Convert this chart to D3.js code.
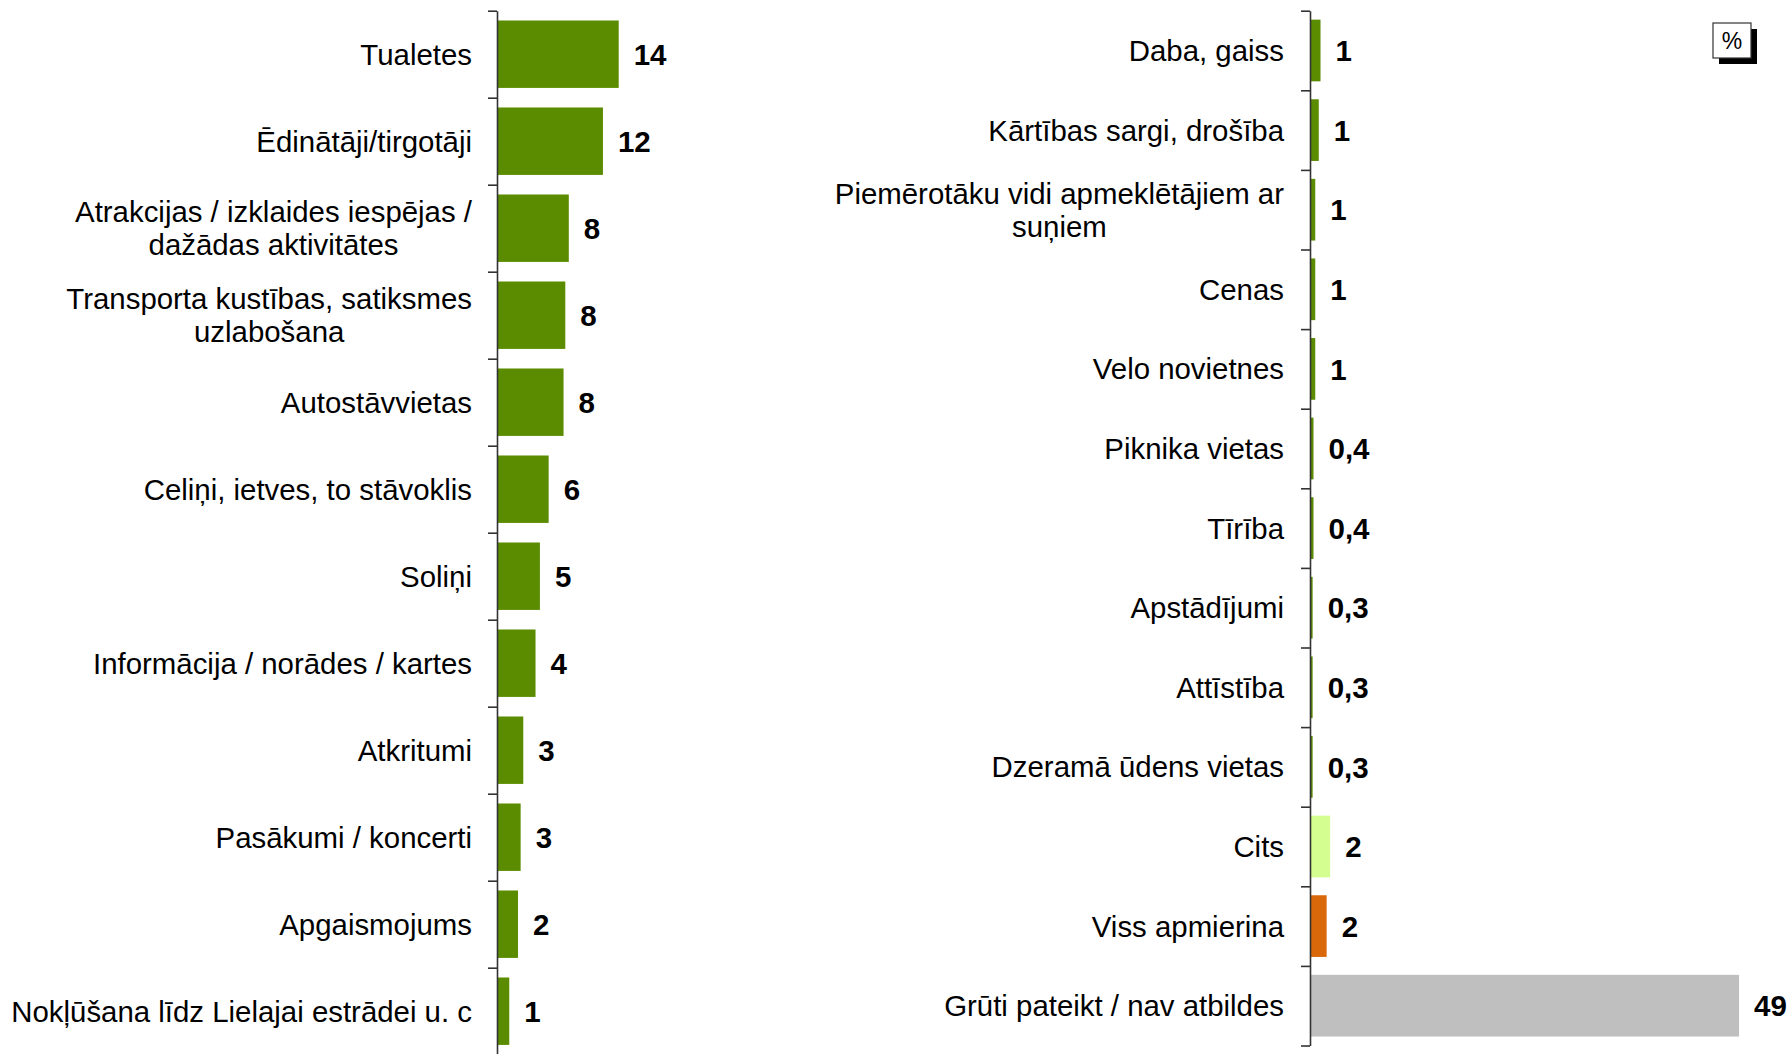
<!DOCTYPE html>
<html>
<head>
<meta charset="utf-8">
<script src="https://cdn.jsdelivr.net/npm/d3@7"></script>
<style>
  html, body { margin: 0; padding: 0; background: #fff; }
  svg { display: block; font-family: "Liberation Sans", Arial, sans-serif; }
</style>
</head>
<body>
<svg id="chart"></svg>
<script>
// left panel
const leftCategories = [
  'Tualetes',
  'Ēdinātāji/tirgotāji',
  'Atrakcijas / izklaides iespējas /\ndažādas aktivitātes',
  'Transporta kustības, satiksmes\nuzlabošana',
  'Autostāvvietas',
  'Celiņi, ietves, to stāvoklis',
  'Soliņi',
  'Informācija / norādes / kartes',
  'Atkritumi',
  'Pasākumi / koncerti',
  'Apgaismojums',
  'Nokļūšana līdz Lielajai estrādei u. c'
]
const leftValues = [13.9, 12.1, 8.2, 7.8, 7.6, 5.9, 4.9, 4.4, 3.0, 2.7, 2.4, 1.4]

// right panel
const rightCategories = [
  'Daba, gaiss',
  'Kārtības sargi, drošība',
  'Piemērotāku vidi apmeklētājiem ar\nsuņiem',
  'Cenas',
  'Velo novietnes',
  'Piknika vietas',
  'Tīrība',
  'Apstādījumi',
  'Attīstība',
  'Dzeramā ūdens vietas',
  'Cits',
  'Viss apmierina',
  'Grūti pateikt / nav atbildes'
]
const rightValues = [1.2, 1.0, 0.6, 0.6, 0.6, 0.4, 0.4, 0.3, 0.3, 0.3, 2.3, 1.9, 49.0]
const rightGroups = ['item', 'item', 'item', 'item', 'item', 'item', 'item', 'item', 'item', 'item', 'other', 'ok', 'dk']

const colors = { item: '#5b8c00', other: '#d5fe90', ok: '#d9680a', dk: '#bfbfbf' }

const svgWidth = 1789
const svgHeight = 1054

const svg = d3.select('#chart')
  .attr('width', svgWidth)
  .attr('height', svgHeight)

// same value scale for both panels
const x = d3.scaleLinear().domain([0, 50]).range([0, 437.8])

const fmt = v => v < 0.5 ? d3.format('.1f')(v).replace('.', ',') : d3.format('.0f')(v)

function panel ({ axisX, top, step, categories, values, fill, labelRight }) {
  const n = categories.length
  const bottom = top + n * step

  const y = d3.scaleBand()
    .domain(categories)
    .range([top, bottom])
    .paddingInner(0.225)
    .paddingOuter(0.1125)

  const g = svg.append('g')
    .attr('transform', `translate(${axisX}, 0)`)

  // category boundaries for ticks
  const yEdges = d3.scaleLinear().domain([0, n]).range([top, bottom])
  const axis = d3.axisLeft(yEdges)
    .tickValues(d3.range(n + 1))
    .tickFormat('')
    .tickSize(9)
    .tickSizeOuter(0)

  g.selectAll('rect')
    .data(values)
    .join('rect')
    .attr('x', 0)
    .attr('y', (d, i) => y(categories[i]))
    .attr('width', d => x(d))
    .attr('height', y.bandwidth())
    .attr('fill', fill)

  const ax = g.append('g').call(axis)
  ax.select('.domain').attr('stroke', '#333').attr('stroke-width', 1.6)
  ax.selectAll('.tick line').attr('stroke', '#333').attr('stroke-width', 1.6)

  // value labels
  g.selectAll('.value')
    .data(values)
    .join('text')
    .attr('class', 'value')
    .attr('x', d => x(d) + 15)
    .attr('y', (d, i) => y(categories[i]) + y.bandwidth() / 2)
    .attr('dy', '0.36em')
    .attr('font-size', 29.5)
    .attr('font-weight', 'bold')
    .attr('fill', '#000')
    .text(fmt)

  // category labels, multi-line ones centred as a block
  const lineHeight = 33
  g.selectAll('.cat')
    .data(categories)
    .join('text')
    .attr('class', 'cat')
    .attr('font-size', 29.4)
    .attr('fill', '#000')
    .attr('text-anchor', 'end')
    .each(function (d) {
      const lines = d.split('\n')
      const t = d3.select(this)
      const cy = y(d) + y.bandwidth() / 2
      const y0 = cy - (lines.length - 1) * lineHeight / 2
      lines.forEach((line, k) => {
        t.append('tspan')
          .attr('x', -labelRight)
          .attr('y', y0 + k * lineHeight)
          .attr('dy', '0.36em')
          .text(line)
      })
      if (lines.length > 1) {
        const w = d3.max(t.selectAll('tspan').nodes(), s => s.getComputedTextLength())
        t.attr('text-anchor', 'middle')
        t.selectAll('tspan').attr('x', -labelRight - w / 2)
      }
    })
}

panel({
  axisX: 497,
  top: 10.7,
  step: 87,
  categories: leftCategories,
  values: leftValues,
  fill: () => colors.item,
  labelRight: 25
})

panel({
  axisX: 1310,
  top: 10.7,
  step: 79.6,
  categories: rightCategories,
  values: rightValues,
  fill: (d, i) => colors[rightGroups[i]],
  labelRight: 26
})

// "%" box with shadow
const box = svg.append('g').attr('transform', 'translate(1713, 23)')
box.append('rect')
  .attr('x', 6).attr('y', 6)
  .attr('width', 38).attr('height', 35)
  .attr('fill', '#000')
box.append('rect')
  .attr('width', 38).attr('height', 35)
  .attr('fill', '#fff')
  .attr('stroke', '#333')
  .attr('stroke-width', 1.2)
box.append('text')
  .attr('x', 19).attr('y', 17.5)
  .attr('dy', '0.36em')
  .attr('text-anchor', 'middle')
  .attr('font-size', 23)
  .text('%')
</script>
</body>
</html>
